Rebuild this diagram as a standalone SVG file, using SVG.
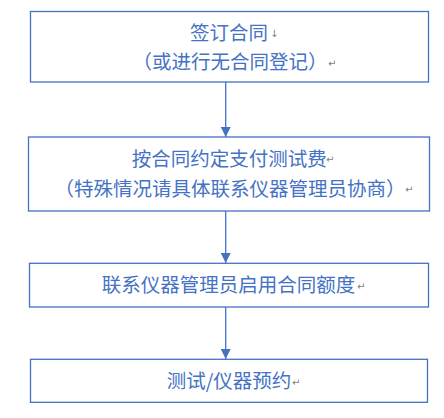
<svg xmlns="http://www.w3.org/2000/svg" width="444" height="418" viewBox="0 0 444 418">
<defs>
<style>
.box{fill:#fff;stroke:#4472C4;stroke-width:1.3}
.t{font-family:"Noto Sans CJK SC","Liberation Sans",sans-serif;font-size:19.5px;fill:#4472C4}
.m{font-family:"DejaVu Sans",sans-serif;font-size:10px;fill:#7f7f7f}
.c{stroke:#4472C4;stroke-width:1.3;fill:none}
</style>
<marker id="ah" markerWidth="10" markerHeight="10" refX="10" refY="5" orient="auto" markerUnits="userSpaceOnUse">
<path d="M0,0 L10,5 L0,10 Z" fill="#4472C4"/>
</marker>
</defs>
<rect width="444" height="418" fill="#fff"/>
<g id="connectors">
<line class="c" x1="225.7" y1="82" x2="225.7" y2="137" marker-end="url(#ah)"/>
<line class="c" x1="225.7" y1="211" x2="225.7" y2="263" marker-end="url(#ah)"/>
<line class="c" x1="225.7" y1="307" x2="225.7" y2="359" marker-end="url(#ah)"/>
</g>
<g id="n1">
<rect class="box" x="30.5" y="11.5" width="398" height="70.5"/>
<text class="t" x="190" y="39.7">签订合同</text><text class="m" x="270" y="37">↓</text>
<text class="t" x="132.6" y="69">（或进行无合同登记）</text><text class="m" x="328" y="67">↵</text>
</g>
<g id="n2">
<rect class="box" x="28.5" y="137" width="401" height="74"/>
<text class="t" x="131.7" y="165.7">按合同约定支付测试费</text><text class="m" x="326" y="163">↵</text>
<text class="t" x="54.5" y="195.7">（特殊情况请具体联系仪器管理员协商）</text><text class="m" x="405" y="193">↵</text>
</g>
<g id="n3">
<rect class="box" x="29.5" y="263.3" width="399" height="43.7"/>
<text class="t" x="101.7" y="292.4">联系仪器管理员启用合同额度</text><text class="m" x="357" y="290">↵</text>
</g>
<g id="n4">
<rect class="box" x="30.5" y="359.3" width="397" height="43"/>
<text class="t" x="166.7" y="388">测试/仪器预约</text><text class="m" x="292" y="386">↵</text>
</g>
</svg>
